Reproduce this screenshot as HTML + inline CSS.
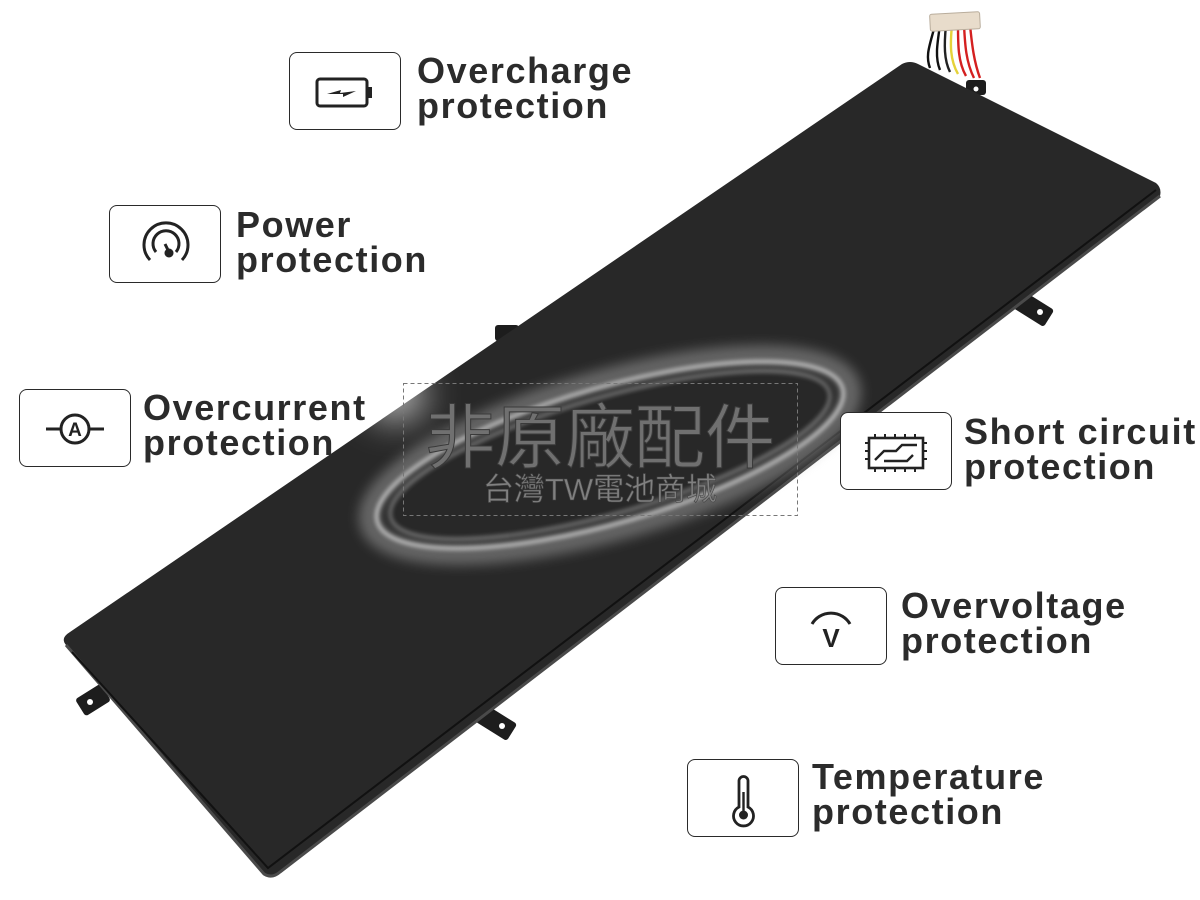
<!DOCTYPE html>
<html><head><meta charset="utf-8"><style>
html,body{margin:0;padding:0;background:#fff;}
body{width:1200px;height:900px;position:relative;overflow:hidden;font-family:"Liberation Sans",sans-serif;}
.box{position:absolute;width:110px;height:76px;border:1.6px solid #2a2a2a;border-radius:8px;background:#fff;}
.box svg{position:absolute;left:0;top:0;}
.lbl{position:absolute;font-weight:bold;font-size:36px;line-height:35px;color:#2b2b2b;letter-spacing:1.6px;}
</style></head><body>
<svg width="1200" height="900" style="position:absolute;left:0;top:0">
<defs>
<filter id="b6" x="-50%" y="-50%" width="200%" height="200%"><feGaussianBlur stdDeviation="6"/></filter>
<filter id="b2" x="-50%" y="-50%" width="200%" height="200%"><feGaussianBlur stdDeviation="2"/></filter>
<filter id="b20" x="-100%" y="-100%" width="300%" height="300%"><feGaussianBlur stdDeviation="18"/></filter>
</defs>
<g stroke-width="2.4" fill="none">
<path d="M935 25 C930 45 925 55 930 68" stroke="#111"/>
<path d="M940 25 C937 45 935 58 940 70" stroke="#111"/>
<path d="M946 25 C944 45 944 60 950 72" stroke="#222"/>
<path d="M952 25 C950 45 950 60 958 74" stroke="#e5d23a"/>
<path d="M958 25 C958 45 958 62 966 76" stroke="#d42020"/>
<path d="M964 25 C965 45 966 62 974 78" stroke="#d42020"/>
<path d="M970 25 C972 45 974 62 980 78" stroke="#d42020"/>
</g>
<rect x="930" y="13" width="50" height="17" rx="2" fill="#e8dccb" stroke="#b9ad9c" transform="rotate(-3 955 22)"/>
<g fill="#1d1d1d">
<rect x="966" y="80" width="20" height="15" rx="3"/>
<rect x="1012" y="298" width="40" height="20" rx="3" transform="rotate(32 1032 308)"/>
<rect x="495" y="325" width="24" height="16" rx="3"/>
<rect x="78" y="690" width="30" height="20" rx="3" transform="rotate(-32 93 700)"/>
<rect x="475" y="712" width="40" height="20" rx="3" transform="rotate(32 495 722)"/>
</g>
<g fill="#fff"><circle cx="976" cy="89" r="2.5"/><circle cx="1040" cy="312" r="3"/><circle cx="90" cy="702" r="3"/><circle cx="502" cy="726" r="3"/></g>
<path d="M70 632 L902 64 Q910 60 918 64 L1156 183 Q1162 188 1160 196 L280 872 Q272 879 264 874 L66 645 Q60 638 70 632 Z" fill="#282828"/>
<path d="M66 645 L264 874 Q272 879 280 872 L1160 196" fill="none" stroke="#4a4a4a" stroke-width="3"/>
<path d="M72 652 L268 868 L1156 190" fill="none" stroke="#111" stroke-width="2"/>
<g transform="rotate(-16 610 455)">
<ellipse cx="610" cy="455" rx="250" ry="75" fill="none" stroke="#9a9a9a" stroke-width="20" filter="url(#b6)" opacity="0.55"/>
<ellipse cx="610" cy="455" rx="242" ry="68" fill="none" stroke="#ddd" stroke-width="4" filter="url(#b2)" opacity="0.8"/>
<ellipse cx="610" cy="455" rx="228" ry="58" fill="none" stroke="#bbb" stroke-width="3" filter="url(#b2)" opacity="0.55"/>
</g>
<ellipse cx="395" cy="395" rx="30" ry="25" fill="#fff" filter="url(#b20)" opacity="0.7"/>
<rect x="403.5" y="383.5" width="394" height="132" fill="none" stroke="#777" stroke-dasharray="4 3" stroke-width="1"/>
<text x="600" y="462" text-anchor="middle" font-family="'Noto Sans CJK TC','WenQuanYi Zen Hei',sans-serif" font-size="70" fill="#707070" stroke="#3a3a3a" stroke-width="1">非原廠配件</text>
<text x="600" y="500" text-anchor="middle" font-family="'Liberation Sans','Noto Sans CJK TC',sans-serif" font-size="31" fill="#808080" stroke="#444" stroke-width="0.6">台灣TW電池商城</text>
</svg>

<div class="box" style="left:289px;top:52px"><svg width="110" height="76"><rect x="27" y="26" width="50" height="27" rx="3" fill="none" stroke="#222" stroke-width="3"/><rect x="77" y="34" width="5" height="11" fill="#222"/><path d="M37 41 L51 37 L50 40 L66 38 L53 44 L53 41 Z" fill="#222"/></svg></div>
<div class="lbl" style="left:417px;top:53px">Overcharge<br>protection</div>

<div class="box" style="left:109px;top:205px"><svg width="110" height="76"><path d="M40 54 A22 22 0 1 1 72 54" fill="none" stroke="#222" stroke-width="3"/><path d="M46 46 A13 13 0 1 1 66 46" fill="none" stroke="#222" stroke-width="3"/><line x1="55" y1="38" x2="59" y2="46" stroke="#222" stroke-width="3"/><circle cx="59" cy="47" r="4.5" fill="#222"/></svg></div>
<div class="lbl" style="left:236px;top:207px">Power<br>protection</div>

<div class="box" style="left:19px;top:389px"><svg width="110" height="76"><circle cx="55" cy="39" r="14" fill="none" stroke="#222" stroke-width="3"/><line x1="26" y1="39" x2="41" y2="39" stroke="#222" stroke-width="3"/><line x1="69" y1="39" x2="84" y2="39" stroke="#222" stroke-width="3"/><text x="55" y="46" text-anchor="middle" font-size="19" font-weight="bold" fill="#222" font-family="Liberation Sans">A</text></svg></div>
<div class="lbl" style="left:143px;top:390px">Overcurrent<br>protection</div>

<div class="box" style="left:840px;top:412px"><svg width="110" height="76"><rect x="28" y="25" width="54" height="30" fill="none" stroke="#222" stroke-width="2.6"/><path d="M28 30 h-4 M28 38 h-4 M28 46 h-4 M82 30 h4 M82 38 h4 M82 46 h4 M34 25 v-4 M44 25 v-4 M54 25 v-4 M64 25 v-4 M74 25 v-4 M34 55 v4 M44 55 v4 M54 55 v4 M64 55 v4 M74 55 v4" stroke="#222" stroke-width="2"/><path d="M34 47 L43 38 L55 38 L61 32 L76 32 M43 48 L66 48 L72 42" fill="none" stroke="#222" stroke-width="2.4"/></svg></div>
<div class="lbl" style="left:964px;top:414px">Short circuit<br>protection</div>

<div class="box" style="left:775px;top:587px"><svg width="110" height="76"><path d="M36 36 A22 22 0 0 1 74 36" fill="none" stroke="#222" stroke-width="3"/><text x="55" y="59" text-anchor="middle" font-size="26" font-weight="bold" fill="#222" font-family="Liberation Sans">V</text></svg></div>
<div class="lbl" style="left:901px;top:588px">Overvoltage<br>protection</div>

<div class="box" style="left:687px;top:759px"><svg width="110" height="76"><path d="M51 47 V21 A4.5 4.5 0 0 1 60 21 V47 A10 10 0 1 1 51 47 Z" fill="none" stroke="#222" stroke-width="2.8"/><circle cx="55.5" cy="55" r="4.5" fill="#222"/><line x1="55.5" y1="32" x2="55.5" y2="52" stroke="#222" stroke-width="2.4"/></svg></div>
<div class="lbl" style="left:812px;top:759px">Temperature<br>protection</div>
</body></html>
